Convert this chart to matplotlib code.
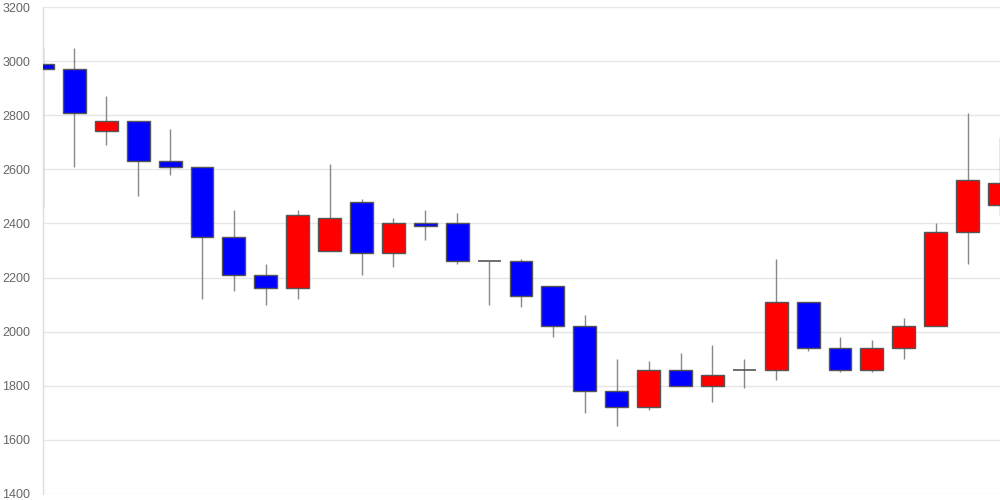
import matplotlib
matplotlib.use("Agg")
import matplotlib.pyplot as plt
from matplotlib.patches import Rectangle

# 四本値 (始値, 高値, 安値, 終値) — 画像から読み取り
opens = [2990, 2970, 2740, 2780, 2630, 2610, 2350, 2210, 2160, 2300,
         2480, 2290, 2400, 2400, 2260, 2260, 2170, 2020, 1780, 1720,
         1860, 1800, 1860, 1860, 2110, 1940, 1860, 1940, 2020, 2370, 2470]
highs = [3050, 3050, 2870, 2780, 2750, 2610, 2450, 2250, 2450, 2620,
         2490, 2420, 2450, 2440, 2260, 2270, 2170, 2060, 1900, 1890,
         1920, 1950, 1900, 2270, 2110, 1980, 1970, 2050, 2400, 2810, 2720]
lows = [2460, 2610, 2690, 2500, 2580, 2120, 2150, 2100, 2120, 2300,
        2210, 2240, 2340, 2250, 2100, 2090, 1980, 1700, 1650, 1710,
        1800, 1740, 1790, 1820, 1930, 1850, 1850, 1900, 2020, 2250, 2430]
closes = [2970, 2810, 2780, 2630, 2610, 2350, 2210, 2160, 2430, 2420,
          2290, 2400, 2390, 2260, 2260, 2130, 2020, 1780, 1720, 1860,
          1800, 1840, 1860, 2110, 1940, 1860, 1940, 2020, 2370, 2560, 2550]
y_ticks = [1400, 1600, 1800, 2000, 2200, 2400, 2600, 2800, 3000, 3200]

UP = "#ff0000"
DOWN = "#0000ff"
EDGE = "#555555"
WICK = "#888888"
BODY_W = 0.72

plt.rcParams["font.family"] = ["Liberation Sans", "DejaVu Sans"]

fig = plt.figure(figsize=(10, 5), dpi=100)
ax = fig.add_axes([0.0425, 0.012, 0.957, 0.974])

for i, (o, h, l, c) in enumerate(zip(opens, highs, lows, closes)):
    ax.vlines(i, l, h, color=WICK, linewidth=1, zorder=2)
    if o == c:
        ax.hlines(o, i - BODY_W / 2, i + BODY_W / 2, color=EDGE, linewidth=1.2, zorder=3)
        continue
    color = UP if c > o else DOWN
    ax.add_patch(Rectangle((i - BODY_W / 2, min(o, c)), BODY_W, abs(c - o),
                           facecolor=color, edgecolor=EDGE, linewidth=1, zorder=3))

ax.set_xlim(0, len(opens) - 1)
ax.set_ylim(1400, 3200)
ax.set_yticks(y_ticks)
ax.set_xticks([])
ax.grid(axis="y", color="#e6e6e6", linewidth=1, zorder=0)
ax.set_axisbelow(True)

for side in ["top", "right", "bottom"]:
    ax.spines[side].set_visible(False)
ax.spines["left"].set_color("#dddddd")
ax.spines["left"].set_linewidth(1)
ax.tick_params(axis="y", length=0, pad=9, labelsize=9, labelcolor="#666666")

fig.savefig("out.png", dpi=100)
